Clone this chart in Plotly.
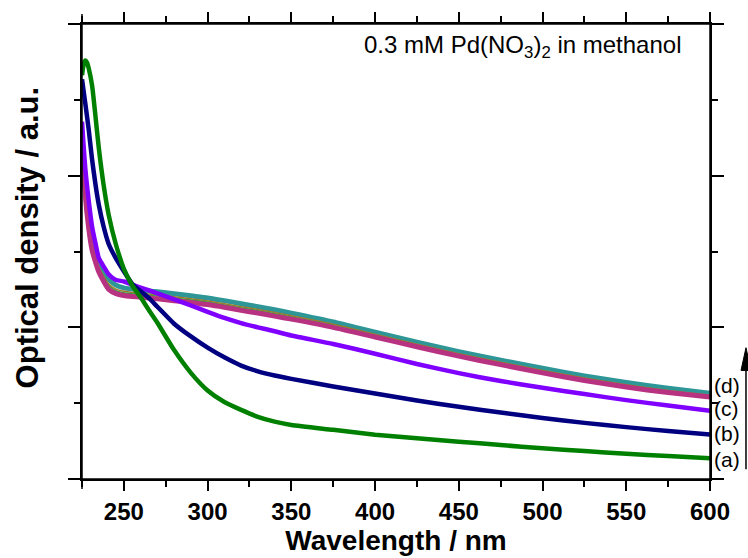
import plotly.graph_objects as go

wavelength = [225, 227, 229, 231, 233, 235, 238, 241, 245, 250, 255, 260, 265, 270,
              280, 290, 300, 310, 320, 330, 340, 350, 375, 400, 425, 450, 475, 500,
              525, 550, 575, 600]

wl_a = [225, 226, 227, 228, 229, 231, 233, 235, 238, 241, 245, 250, 255, 260, 265, 270,
        280, 290, 300, 310, 320, 330, 340, 350, 375, 400, 425, 450, 475, 500,
        525, 550, 575, 600]
od_a = [1.331, 1.367, 1.380, 1.373, 1.354, 1.298, 1.198, 1.093, 0.966, 0.869, 0.778,
        0.693, 0.638, 0.599, 0.556, 0.515, 0.425, 0.350, 0.292, 0.254, 0.228, 0.205,
        0.189, 0.178, 0.162, 0.146, 0.134, 0.123, 0.112, 0.101, 0.092, 0.083, 0.076, 0.068]

od_b = [1.318, 1.237, 1.152, 1.054, 0.973, 0.905, 0.830, 0.774, 0.730, 0.685, 0.643,
        0.619, 0.596, 0.568, 0.512, 0.470, 0.433, 0.401, 0.374, 0.355, 0.341, 0.330,
        0.305, 0.282, 0.259, 0.238, 0.219, 0.201, 0.185, 0.171, 0.158, 0.147]

od_c = [1.178, 1.022, 0.918, 0.833, 0.778, 0.729, 0.700, 0.674, 0.657, 0.651, 0.641,
        0.631, 0.622, 0.612, 0.592, 0.572, 0.551, 0.531, 0.514, 0.500, 0.487, 0.473,
        0.445, 0.413, 0.379, 0.349, 0.323, 0.301, 0.280, 0.260, 0.242, 0.225]

od_d_teal = [1.08, 0.95, 0.85, 0.782, 0.745, 0.713, 0.682, 0.658, 0.640, 0.630, 0.626,
             0.623, 0.620, 0.617, 0.611, 0.604, 0.597, 0.588, 0.578, 0.568, 0.558, 0.547,
             0.518, 0.484, 0.451, 0.420, 0.392, 0.365, 0.340, 0.318, 0.299, 0.283]
od_d_olive = [1.10, 0.94, 0.84, 0.770, 0.732, 0.700, 0.668, 0.643, 0.627, 0.619, 0.615,
              0.613, 0.610, 0.607, 0.601, 0.594, 0.587, 0.578, 0.568, 0.559, 0.549, 0.538,
              0.510, 0.477, 0.444, 0.413, 0.385, 0.358, 0.333, 0.311, 0.292, 0.277]
od_d_green = [1.11, 0.94, 0.835, 0.765, 0.727, 0.695, 0.663, 0.638, 0.622, 0.614, 0.611,
              0.609, 0.606, 0.603, 0.597, 0.590, 0.583, 0.574, 0.564, 0.555, 0.545, 0.534,
              0.506, 0.473, 0.440, 0.409, 0.381, 0.354, 0.329, 0.307, 0.289, 0.274]
od_d = [1.136, 0.934, 0.827, 0.755, 0.716, 0.683, 0.651, 0.625, 0.612, 0.605, 0.602,
        0.600, 0.597, 0.594, 0.588, 0.582, 0.575, 0.566, 0.556, 0.547, 0.537, 0.527,
        0.500, 0.468, 0.436, 0.405, 0.377, 0.350, 0.325, 0.303, 0.285, 0.270]

labels = ["(a)", "(b)", "(c)", "(d)"]
label_y = [0.065, 0.150, 0.234, 0.309]

x_ticks = [250, 300, 350, 400, 450, 500, 550, 600]

FONT = "Arial, Liberation Sans, sans-serif"

fig = go.Figure()
series = [
    (wavelength, od_d_teal, "#2E9696", 5),
    (wavelength, od_d_olive, "#A07A28", 1.5),
    (wavelength, od_d_green, "#3A9E3A", 1.5),
    (wavelength, od_d, "#B83282", 5),
    (wavelength, od_c, "#8000FF", 4.5),
    (wavelength, od_b, "#000080", 4.5),
    (wl_a, od_a, "#008000", 4.5),
]
for xs, ys, col, w in series:
    fig.add_trace(go.Scatter(x=xs, y=ys, mode="lines",
                             line=dict(color=col, width=w, shape="spline", smoothing=0.6),
                             showlegend=False, hoverinfo="skip"))

for lab, yv in zip(labels, label_y):
    fig.add_annotation(x=1.003, xref="paper", y=yv, yref="y", text=lab, showarrow=False,
                       xanchor="left", yanchor="middle",
                       font=dict(size=21, color="black", family=FONT))

fig.add_annotation(x=0.957, xref="paper", y=0.950, yref="paper",
                   text="0.3 mM Pd(NO<sub>3</sub>)<sub>2</sub> in methanol", showarrow=False,
                   xanchor="right", yanchor="middle",
                   font=dict(size=24, color="black", family=FONT))

# y-axis title (placed as in the reference, slightly above centre)
fig.add_annotation(x=-0.0876, xref="paper", y=0.531, yref="paper",
                   text="<b>Optical density / a.u.</b>", textangle=-90, showarrow=False,
                   xanchor="center", yanchor="middle",
                   font=dict(size=31, color="black", family=FONT))

# time arrow (line + filled head)
fig.add_shape(type="line", xref="paper", yref="paper", x0=1.0573, x1=1.0573,
              y0=0.0217, y1=0.262, line=dict(color="black", width=1.5))
fig.add_shape(type="path", xref="paper", yref="paper",
              path="M 1.0573 0.2885 L 1.0494 0.2386 L 1.0653 0.2386 Z",
              fillcolor="black", line=dict(color="black", width=1))

# axis line extensions (Origin style)
ex, ey = 0.016, 0.022
line_style = dict(color="black", width=1.5)
fig.add_shape(type="line", xref="paper", yref="paper", x0=-ex, x1=1 + ex, y0=0, y1=0, line=line_style)
fig.add_shape(type="line", xref="paper", yref="paper", x0=-ex, x1=1 + ex, y0=1, y1=1, line=line_style)
fig.add_shape(type="line", xref="paper", yref="paper", x0=0, x1=0, y0=-ey, y1=1 + ey, line=line_style)
fig.add_shape(type="line", xref="paper", yref="paper", x0=1, x1=1, y0=-ey, y1=1 + ey, line=line_style)

fig.update_layout(
    width=748, height=558,
    margin=dict(l=82, r=38, t=21, b=76),
    paper_bgcolor="white", plot_bgcolor="white",
    font=dict(family=FONT, color="black"),
    xaxis=dict(range=[225, 600], tickvals=x_ticks, ticks="outside", ticklen=10, tickwidth=1.5,
               tickcolor="black", showline=True, linecolor="black", linewidth=1.5, mirror="ticks",
               showgrid=False, zeroline=False,
               tickfont=dict(size=24, family=FONT, weight="bold"),
               minor=dict(dtick=25, tick0=225, ticks="outside", ticklen=6, tickwidth=1.5,
                          tickcolor="black"),
               title=dict(text="Wavelength / nm", font=dict(size=28, family=FONT, weight="bold"),
                          standoff=2)),
    yaxis=dict(range=[0, 1.5], dtick=0.5, ticks="outside", ticklen=12, tickwidth=1.5,
               tickcolor="black", showline=True, linecolor="black", linewidth=1.5, mirror="ticks",
               showgrid=False, zeroline=False, showticklabels=False,
               minor=dict(dtick=0.25, ticks="outside", ticklen=6, tickwidth=1.5, tickcolor="black")),
)

fig.write_html("out.html")
